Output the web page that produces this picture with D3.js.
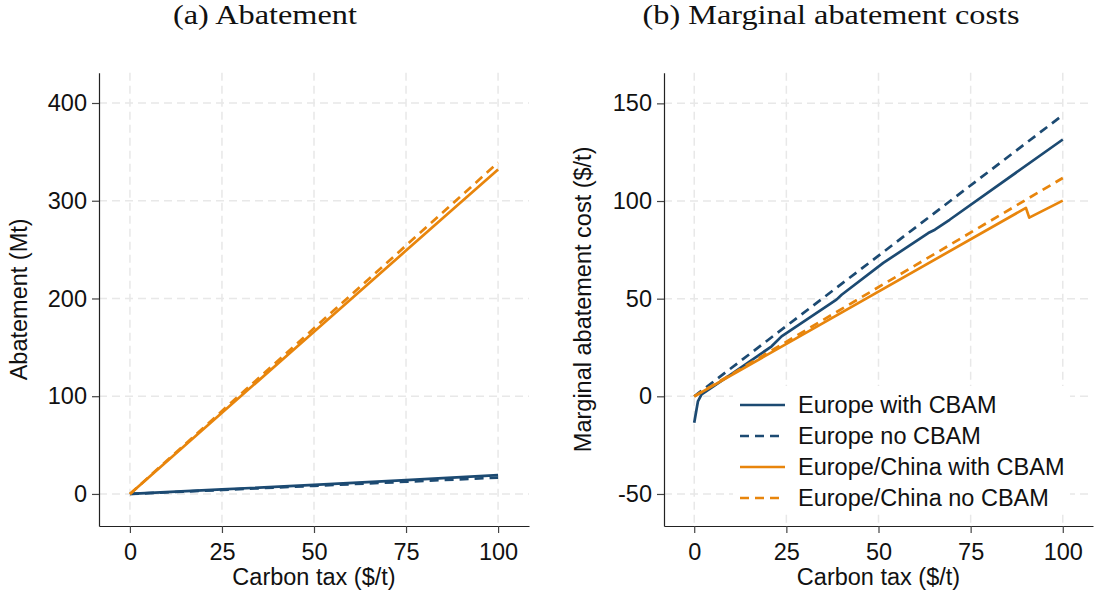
<!DOCTYPE html>
<html>
  <head>
    <meta charset="utf-8">
    <title>Abatement and marginal abatement costs</title>
    <script src="https://d3js.org/d3.v7.min.js"></script>
    <style>
      body { margin: 0; background: #fff; }
      svg { display: block; }
      .tick text { font-family: "Liberation Sans", Arial, sans-serif; font-size: 23.5px; fill: #111; }
      .tick line { stroke: #444; stroke-width: 1.2; }
      .domain { stroke: #222; stroke-width: 1.2; }
      .grid line { stroke: #e8e8e8; stroke-width: 1.5; stroke-dasharray: 8,5; }
      .axisTitle, .legendText { font-family: "Liberation Sans", Arial, sans-serif; font-size: 23.5px; fill: #111; }
      .panelTitle { font-family: "Liberation Serif", "Times New Roman", serif; font-size: 27px; fill: #111; }
      .series { fill: none; stroke-width: 2.7; stroke-linejoin: round; }
    </style>
  </head>
  <body>
    <svg id="chart" width="1096" height="597"></svg>
    <script>
      // panel (a): abatement (Mt) by carbon tax ($/t)
      const abateTax = [0, 25, 50, 75, 100];
      const abateEuropeCbam = [0, 4.6, 9.3, 14.2, 19.2];
      const abateEuropeNoCbam = [0, 4.1, 8.3, 12.5, 16.7];
      const abateChinaCbam = [0, 83, 166, 249, 332];
      const abateChinaNoCbam = [0, 84.8, 169.5, 254.2, 339];

      // panel (b): marginal abatement cost ($/t) by carbon tax ($/t)
      const macEuropeCbamTax = [0, 1, 2, 10, 21, 23.7, 38.6, 40, 51.3, 63.5, 65.3, 69.3, 100];
      const macEuropeCbam = [-13.5, -2.6, 1, 11.2, 25.6, 30.7, 49.5, 52, 68.3, 83.6, 85.3, 90.4, 131.5];
      const macEuropeNoCbamTax = [0, 100];
      const macEuropeNoCbam = [0, 144];
      const macChinaCbamTax = [0, 90, 90.9, 100];
      const macChinaCbam = [0, 96.5, 91.5, 100.2];
      const macChinaNoCbamTax = [0, 100];
      const macChinaNoCbam = [0, 111.8];

      // ticks and labels
      const taxTicks = [0, 25, 50, 75, 100];
      const abateTicks = [0, 100, 200, 300, 400];
      const macTicks = [-50, 0, 50, 100, 150];
      const seriesNames = ["Europe with CBAM", "Europe no CBAM", "Europe/China with CBAM", "Europe/China no CBAM"];
      const seriesColors = ["#1c4a72", "#1c4a72", "#e8850c", "#e8850c"];
      const seriesDashes = [null, "9,6", null, "9,6"];

      const svg = d3.select("#chart");
      // plain hyphen for negatives, as in the original
      const tickFormat = function(d) { return String(d); };

      function zip(xs, ys) {
        return xs.map(function(x, i) { return [x, ys[i]]; });
      }

      function drawPanel(opts) {
        const x = d3.scaleLinear().domain(opts.xDomain).range([opts.left, opts.right]);
        const y = d3.scaleLinear().domain(opts.yDomain).range([opts.bottom, opts.top]);
        const g = svg.append("g");

        // dashed gridlines
        const grid = g.append("g").classed("grid", true);
        grid.selectAll(".gx")
          .data(taxTicks)
          .enter().append("line")
            .attr("x1", function(d) { return x(d); })
            .attr("x2", function(d) { return x(d); })
            .attr("y1", opts.top)
            .attr("y2", opts.bottom);
        grid.selectAll(".gy")
          .data(opts.yTicks)
          .enter().append("line")
            .attr("x1", opts.left)
            .attr("x2", opts.right)
            .attr("y1", function(d) { return y(d); })
            .attr("y2", function(d) { return y(d); });

        // series
        const line = d3.line()
          .x(function(d) { return x(d[0]); })
          .y(function(d) { return y(d[1]); });
        opts.series.forEach(function(s, i) {
          g.append("path")
            .classed("series", true)
            .attr("d", line(s))
            .attr("stroke", seriesColors[i])
            .attr("stroke-dasharray", seriesDashes[i]);
        });

        // axes
        g.append("g")
          .attr("transform", "translate(0," + opts.bottom + ")")
          .call(d3.axisBottom(x).tickValues(taxTicks).tickFormat(tickFormat)
            .tickSize(7).tickSizeOuter(0).tickPadding(10));
        g.append("g")
          .attr("transform", "translate(" + opts.left + ",0)")
          .call(d3.axisLeft(y).tickValues(opts.yTicks).tickFormat(tickFormat)
            .tickSize(7).tickSizeOuter(0).tickPadding(5));

        // titles
        g.append("text")
          .classed("axisTitle", true)
          .attr("x", (opts.left + opts.right) / 2)
          .attr("y", 585)
          .attr("text-anchor", "middle")
          .text("Carbon tax ($/t)");
        g.append("text")
          .classed("axisTitle", true)
          .attr("transform", "translate(" + opts.yTitleX + "," + (opts.top + opts.bottom) / 2 + ") rotate(-90)")
          .attr("text-anchor", "middle")
          .text(opts.yTitle);
        g.append("text")
          .classed("panelTitle", true)
          .attr("x", opts.titleX)
          .attr("y", 23.5)
          .attr("text-anchor", "middle")
          .attr("textLength", opts.titleWidth)
          .attr("lengthAdjust", "spacingAndGlyphs")
          .text(opts.title);
        return g;
      }

      drawPanel({
        left: 99, right: 529, top: 72.7, bottom: 526,
        xDomain: [-8.4, 108.4], yDomain: [-32.8, 431],
        yTicks: abateTicks,
        yTitle: "Abatement (Mt)", yTitleX: 27,
        title: "(a) Abatement", titleX: 265, titleWidth: 184,
        series: [
          zip(abateTax, abateEuropeCbam),
          zip(abateTax, abateEuropeNoCbam),
          zip(abateTax, abateChinaCbam),
          zip(abateTax, abateChinaNoCbam)
        ]
      });

      const right = drawPanel({
        left: 664, right: 1093, top: 72.7, bottom: 526,
        xDomain: [-8.2, 108.2], yDomain: [-66.4, 165.7],
        yTicks: macTicks,
        yTitle: "Marginal abatement cost ($/t)", yTitleX: 591,
        title: "(b) Marginal abatement costs", titleX: 831, titleWidth: 377,
        series: [
          zip(macEuropeCbamTax, macEuropeCbam),
          zip(macEuropeNoCbamTax, macEuropeNoCbam),
          zip(macChinaCbamTax, macChinaCbam),
          zip(macChinaNoCbamTax, macChinaNoCbam)
        ]
      });

      // legend with white box over the grid
      const legend = right.append("g");
      legend.append("rect")
        .attr("x", 733)
        .attr("y", 386)
        .attr("width", 337)
        .attr("height", 128)
        .attr("fill", "#fff");
      const rows = legend.selectAll(".row")
        .data(seriesNames)
        .enter().append("g")
          .attr("transform", function(d, i) { return "translate(740," + (405 + i * 31) + ")"; });
      rows.append("line")
        .attr("x1", 0)
        .attr("x2", 45)
        .attr("stroke-width", 2.7)
        .attr("stroke", function(d, i) { return seriesColors[i]; })
        .attr("stroke-dasharray", function(d, i) { return seriesDashes[i]; });
      rows.append("text")
        .classed("legendText", true)
        .attr("x", 58)
        .attr("dy", "0.35em")
        .text(function(d) { return d; });
    </script>
  </body>
</html>
